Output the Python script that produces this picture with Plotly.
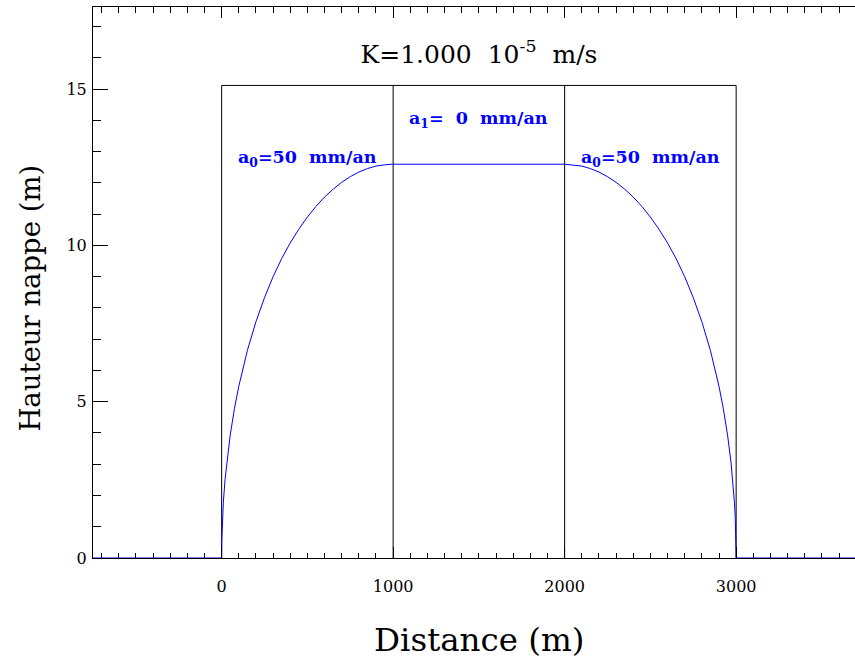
import plotly.graph_objects as go

# Water-table height (m) vs distance (m)
dist = [-750, 0, 1, 2, 5, 10, 20, 30, 50, 75, 100, 150, 200, 250, 300, 350, 400, 450,
        500, 550, 600, 650, 700, 750, 800, 850, 900, 950, 1000,
        2000, 2050, 2100, 2150, 2200, 2250, 2300, 2350, 2400, 2450, 2500, 2550, 2600,
        2650, 2700, 2750, 2800, 2850, 2900, 2925, 2950, 2970, 2980, 2990, 2995, 2998,
        2999, 3000, 3750]
hauteur = [0, 0, 0.56, 0.80, 1.26, 1.78, 2.51, 3.06, 3.93, 4.79, 5.49, 6.64, 7.56, 8.33,
           9.00, 9.58, 10.08, 10.52, 10.91, 11.25, 11.55, 11.80, 12.02, 12.20, 12.35,
           12.46, 12.54, 12.58, 12.60,
           12.60, 12.58, 12.54, 12.46, 12.35, 12.20, 12.02, 11.80, 11.55, 11.25, 10.91,
           10.52, 10.08, 9.58, 9.00, 8.33, 7.56, 6.64, 5.49, 4.79, 3.93, 3.06, 2.51,
           1.78, 1.26, 0.80, 0.56, 0, 0]

# Zone limits (m) and box height (m)
zone_limits = [0, 1000, 2000, 3000]
box_top = 15.12

# Labels
title_text = "K=1.000  10<sup>-5</sup>  m/s"
x_title = "Distance (m)"
y_title = "Hauteur nappe (m)"
zone_labels = ["a<sub>0</sub>=50  mm/an", "a<sub>1</sub>=  0  mm/an", "a<sub>0</sub>=50  mm/an"]
zone_label_x = [500, 1500, 2500]
zone_label_y = [12.79, 14.02, 12.79]

x_ticks = [0, 1000, 2000, 3000]
y_ticks = [0, 5, 10, 15]
x_range = [-750, 3693]
y_range = [0, 17.63]

SERIF = "DejaVu Serif"

# Figure geometry
W, H = 855, 662
ML, MR, MT, MB = 92.7, 0, 6.7, 104.3
PW = W - ML - MR
PH = H - MT - MB


def px_to_paper_x(px):
    return (px - ML) / PW


def py_to_paper_y(py):
    return (H - MB - py) / PH


# Build box trace from zone limits
bx, by = [], []
for z in zone_limits:
    bx += [z, z, None]
    by += [0, box_top, None]
bx += [zone_limits[0], zone_limits[-1]]
by += [box_top, box_top]

fig = go.Figure()
fig.add_trace(go.Scatter(x=bx, y=by, mode="lines",
                         line=dict(color="black", width=1), hoverinfo="skip",
                         showlegend=False))
fig.add_trace(go.Scatter(x=dist, y=hauteur, mode="lines",
                         line=dict(color="#0000ff", width=1), showlegend=False))

for txt, xx, yy in zip(zone_labels, zone_label_x, zone_label_y):
    fig.add_annotation(x=xx, y=yy, text=txt, showarrow=False,
                       font=dict(family=SERIF, size=17.5, color="#0000ff", weight="bold"),
                       xanchor="center", yanchor="middle")

fig.add_annotation(xref="paper", yref="paper", x=px_to_paper_x(479), y=py_to_paper_y(640),
                   text=x_title, showarrow=False, xanchor="center", yanchor="middle",
                   font=dict(family=SERIF, size=32.5, color="black"))
fig.add_annotation(xref="paper", yref="paper", x=px_to_paper_x(30), y=py_to_paper_y(298),
                   text=y_title, showarrow=False, xanchor="center", yanchor="middle",
                   textangle=-90, font=dict(family=SERIF, size=27.5, color="black"))

fig.update_layout(
    width=W, height=H,
    margin=dict(l=ML, r=MR, t=MT, b=MB, autoexpand=False),
    paper_bgcolor="white", plot_bgcolor="white",
    title=dict(text=title_text, xref="container", yref="container",
               x=479 / W, xanchor="center", y=1 - 54 / H,
               yanchor="middle", automargin=False,
               font=dict(family=SERIF, size=25, color="black")),
    xaxis=dict(range=x_range, tickvals=x_ticks, ticks="inside", ticklen=11,
               tickcolor="black", showline=True, linecolor="black", linewidth=1,
               mirror="ticks", showgrid=False, zeroline=False, automargin=False,
               tickfont=dict(family=SERIF, size=16, color="black"),
               ticklabelstandoff=14,
               minor=dict(dtick=100, ticks="inside", ticklen=5.5, tickcolor="black",
                          showgrid=False)),
    yaxis=dict(range=y_range, tickvals=y_ticks, ticks="inside", ticklen=15.4,
               tickcolor="black", showline=True, linecolor="black", linewidth=1,
               mirror=False, showgrid=False, zeroline=False, automargin=False,
               tickfont=dict(family=SERIF, size=16, color="black"),
               ticklabelstandoff=2,
               minor=dict(dtick=1, ticks="inside", ticklen=7.7, tickcolor="black",
                          showgrid=False)),
    yaxis2=dict(range=y_range, overlaying="y", side="right", tickvals=y_ticks,
                ticks="inside", ticklen=6, tickcolor="black", showline=False,
                showgrid=False, zeroline=False, showticklabels=False, automargin=False),
)

fig.write_html(
    "out.html",
    config={"displayModeBar": False},
    post_script=(
        "document.body.style.margin='0';"
        "document.body.style.overflow='hidden';"
        "document.documentElement.style.overflow='hidden';"
    ),
)
